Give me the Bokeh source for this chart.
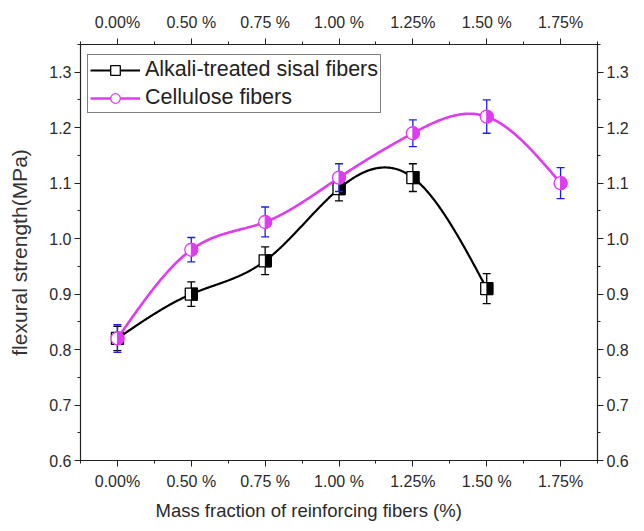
import numpy as np
from bokeh.plotting import figure
from bokeh.models import (ColumnDataSource, FixedTicker, LinearAxis, Legend,
                          LegendItem, PrintfTickFormatter, Range1d, Title)
from bokeh.transform import dodge
from bokeh.embed import file_html
from bokeh.resources import INLINE

# ---------------- data ----------------
categories = ["0.00%", "0.50 %", "0.75 %", "1.00 %", "1.25%", "1.50 %", "1.75%"]
alkali_strength = [0.82, 0.90, 0.96, 1.09, 1.11, 0.91]
alkali_error = [0.022, 0.022, 0.025, 0.022, 0.025, 0.027]
cellulose_strength = [0.82, 0.98, 1.03, 1.11, 1.19, 1.22, 1.10]
cellulose_error = [0.025, 0.022, 0.027, 0.025, 0.024, 0.030, 0.028]
y_ticks = [0.6, 0.7, 0.8, 0.9, 1.0, 1.1, 1.2, 1.3]
y_minor_ticks = [0.65, 0.75, 0.85, 0.95, 1.05, 1.15, 1.25, 1.35]

FONT = "Liberation Sans"
BLACK = "#000000"
MAGENTA = "#E03AF2"
BLUE = "#1E1EE6"


def natural_spline(xs, ys, n=400):
    xs = np.asarray(xs, float)
    ys = np.asarray(ys, float)
    k = len(xs)
    h = np.diff(xs)
    A = np.zeros((k, k))
    b = np.zeros(k)
    A[0, 0] = 1.0
    A[-1, -1] = 1.0
    for i in range(1, k - 1):
        A[i, i - 1] = h[i - 1]
        A[i, i] = 2 * (h[i - 1] + h[i])
        A[i, i + 1] = h[i]
        b[i] = 6 * ((ys[i + 1] - ys[i]) / h[i] - (ys[i] - ys[i - 1]) / h[i - 1])
    M = np.linalg.solve(A, b)
    xx = np.linspace(xs[0], xs[-1], n)
    idx = np.clip(np.searchsorted(xs, xx) - 1, 0, k - 2)
    x0, x1 = xs[idx], xs[idx + 1]
    hh = x1 - x0
    t1 = x1 - xx
    t0 = xx - x0
    yy = (M[idx] * t1 ** 3 / (6 * hh) + M[idx + 1] * t0 ** 3 / (6 * hh)
          + (ys[idx] / hh - M[idx] * hh / 6) * t1
          + (ys[idx + 1] / hh - M[idx + 1] * hh / 6) * t0)
    return xx, yy


def make_source(vals, errs):
    x = list(range(len(vals)))
    return ColumnDataSource(dict(
        x=x, y=vals,
        upper=[v + e for v, e in zip(vals, errs)],
        lower=[v - e for v, e in zip(vals, errs)],
    ))


src_a = make_source(alkali_strength, alkali_error)
src_c = make_source(cellulose_strength, cellulose_error)

X_START, X_END = -0.5, 6.5
FRAME_W = 517
half_px = 3.2 * (X_END - X_START) / FRAME_W  # half-marker offset in data units

p = figure(width=644, height=531,
           x_range=Range1d(X_START, X_END), y_range=Range1d(0.6, 1.35),
           output_backend="svg", toolbar_location=None,
           min_border_left=80, min_border_right=47,
           min_border_top=44, min_border_bottom=71,
           background_fill_color="white", border_fill_color="white")
p.grid.visible = False
p.outline_line_color = BLACK

x_ticker = FixedTicker(ticks=list(range(len(categories))),
                       minor_ticks=[i - 0.5 for i in range(len(categories) + 1)])
y_ticker = FixedTicker(ticks=y_ticks, minor_ticks=y_minor_ticks)
x_over = {i: c for i, c in enumerate(categories)}

p.add_layout(LinearAxis(), "above")
p.add_layout(LinearAxis(), "right")

for ax in p.xaxis:
    ax.ticker = x_ticker
    ax.major_label_overrides = x_over
for ax in p.yaxis:
    ax.ticker = y_ticker
    ax.formatter = PrintfTickFormatter(format="%.1f")

for ax in p.axis:
    ax.axis_line_color = "#222222"
    ax.axis_line_width = 1.2
    ax.major_tick_line_color = "#222222"
    ax.minor_tick_line_color = "#222222"
    ax.major_tick_out = 6
    ax.major_tick_in = 0
    ax.minor_tick_out = 3
    ax.minor_tick_in = 0
    ax.major_label_text_font = FONT
    ax.major_label_text_font_size = "16px"
    ax.major_label_text_color = "#2a2a2a"
    ax.axis_label_text_font = FONT
    ax.axis_label_text_font_style = "normal"
    ax.axis_label_text_color = "#333333"

p.xaxis[0].major_label_standoff = 8   # above
p.xaxis[1].major_label_standoff = 6   # below
p.yaxis[0].major_label_standoff = 3   # left
p.yaxis[1].major_label_standoff = 3   # right

xtitle = Title(text="Mass fraction of reinforcing fibers (%)", align="left",
               offset=75, text_font=FONT, text_font_size="18.5px",
               text_font_style="normal", text_color="#2a2a2a")
p.add_layout(xtitle, "below")

p.left[0].axis_label = "flexural strength(MPa)"
p.left[0].axis_label_text_font_size = "21px"
p.left[0].axis_label_standoff = 15

# ---------------- alkali series ----------------
xa, ya = natural_spline(src_a.data["x"], alkali_strength)
line_a = p.line(xa, ya, line_color=BLACK, line_width=2.2)
p.segment(x0="x", y0="lower", x1="x", y1="upper", source=src_a,
          line_color=BLACK, line_width=1.3)
p.scatter(x="x", y="upper", source=src_a, marker="dash", size=8,
          line_color=BLACK, line_width=1.3)
p.scatter(x="x", y="lower", source=src_a, marker="dash", size=8,
          line_color=BLACK, line_width=1.3)
sq_a = p.scatter(x="x", y="y", source=src_a, marker="square", size=12,
                 fill_color="white", line_color=BLACK, line_width=1.3)
p.rect(x=dodge("x", half_px, range=p.x_range), y="y", source=src_a,
       width=6, height=12, width_units="screen", height_units="screen",
       fill_color=BLACK, line_color=BLACK, line_width=1)

# ---------------- cellulose series ----------------
xc, yc = natural_spline(src_c.data["x"], cellulose_strength)
line_c = p.line(xc, yc, line_color=MAGENTA, line_width=2.6)
p.segment(x0="x", y0="lower", x1="x", y1="upper", source=src_c,
          line_color=BLUE, line_width=1.3)
p.scatter(x="x", y="upper", source=src_c, marker="dash", size=8,
          line_color=BLUE, line_width=1.3)
p.scatter(x="x", y="lower", source=src_c, marker="dash", size=8,
          line_color=BLUE, line_width=1.3)
ci_c = p.scatter(x="x", y="y", source=src_c, marker="circle", size=13,
                 fill_color="white", line_color=MAGENTA, line_width=1.3)
p.wedge(x="x", y="y", source=src_c, radius=6.5, radius_units="screen",
        start_angle=-np.pi / 2, end_angle=np.pi / 2,
        fill_color=MAGENTA, line_color=MAGENTA, line_width=1)

# ---------------- legend ----------------
legend = Legend(items=[
    LegendItem(label="Alkali-treated sisal fibers", renderers=[line_a, sq_a]),
    LegendItem(label="Cellulose fibers", renderers=[line_c, ci_c]),
], location=(7, 347))
legend.label_text_font = FONT
legend.label_text_font_size = "21.5px"
legend.label_text_color = "#222222"
legend.glyph_width = 50
legend.glyph_height = 24
legend.label_height = 24
legend.label_standoff = 5
legend.spacing = 3
legend.padding = 2
legend.margin = 0
legend.border_line_color = BLACK
legend.border_line_width = 1.2
legend.background_fill_alpha = 1.0
p.add_layout(legend, "center")

open("out.html", "w").write(file_html(p, INLINE))
